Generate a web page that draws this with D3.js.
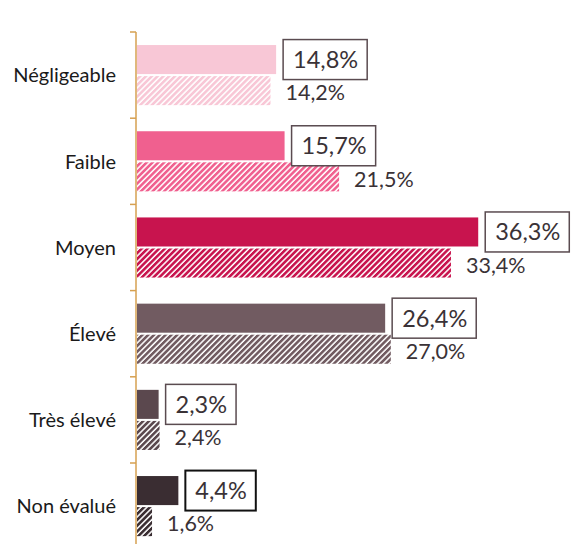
<!DOCTYPE html>
<html><head><meta charset="utf-8">
<script src="https://cdn.jsdelivr.net/npm/d3@7"></script>
<style>body{margin:0;background:#fff;}svg{display:block;font-family:Lato,"Open Sans",sans-serif;}</style>
</head><body>
<svg id="c" width="581" height="544"></svg>
<script>
const categories = ["Négligeable","Faible","Moyen","Élevé ","Très élevé","Non évalué"];
const solidValues = [14.8, 15.7, 36.3, 26.4, 2.3, 4.4];
const hatchValues = [14.2, 21.5, 33.4, 27.0, 2.4, 1.6];
const colors = ["#F8C7D6","#F0608F","#C8144E","#715B61","#5B484E","#3A2D32"];
const fmt = v => d3.format(".1f")(v).replace(".", ",") + "%";

const svg = d3.select("#c");
const x = d3.scaleLinear().domain([0, 40]).range([136, 512]);
const y = d3.scaleBand().domain(categories).range([32, 32 + 6*86.2]);
const sub = d3.scaleBand().domain(["s","h"]).range([0, y.bandwidth()]).paddingInner(0.065).paddingOuter(0.42);

const defs = svg.append("defs");
colors.forEach((c,i) => {
  const p = defs.append("pattern").attr("id","h"+i).attr("patternUnits","userSpaceOnUse")
    .attr("width",4.1).attr("height",10).attr("patternTransform","rotate(45)");
  p.append("rect").attr("width",4.1).attr("height",10).attr("fill","#fff");
  p.append("rect").attr("width",2.6).attr("height",10).attr("fill",c);
});

const g = svg.append("g");
categories.forEach((cat,i) => {
  const y0 = y(cat);
  g.append("rect").attr("x", x(0)+1).attr("y", y0+sub("s")).attr("width", x(solidValues[i])-x(0)).attr("height", sub.bandwidth()).attr("fill", colors[i]);
  g.append("rect").attr("x", x(0)+1).attr("y", y0+sub("h")).attr("width", x(hatchValues[i])-x(0)).attr("height", sub.bandwidth()).attr("fill", "url(#h"+i+")");
  const cy = y0+sub("s")+sub.bandwidth()/2;
  const last = i === categories.length-1;
  const box = g.append("rect");
  const t = g.append("text").attr("x", x(solidValues[i])+18).attr("y", cy).attr("dy","0.36em")
    .attr("font-size",23.5).attr("fill","#3a3236").text(fmt(solidValues[i]));
  const w = t.node().getComputedTextLength();
  box.attr("x", x(solidValues[i])+8).attr("y", cy-20).attr("width", w+19).attr("height", 40)
    .attr("fill","#fff").attr("stroke", last ? "#111" : "#5a4b50").attr("stroke-width", last ? 2 : 1.5);
  const hy = y0+sub("h")+sub.bandwidth()/2;
  g.append("text").attr("x", x(hatchValues[i])+16).attr("y", hy+2).attr("dy","0.36em")
    .attr("font-size",21.5).attr("fill","#3a3236").text(fmt(hatchValues[i]));
  g.append("text").attr("x", 116).attr("y", y0+y.bandwidth()/2).attr("dy","0.36em")
    .attr("text-anchor","end").attr("font-size",20).attr("fill","#1a1a1a").text(cat);
});

const ax = svg.append("g").attr("stroke","#D6A050").attr("stroke-width",1.5);
ax.append("line").attr("x1",136).attr("x2",136).attr("y1",y.range()[0]).attr("y2",544);
categories.forEach(cat => {
  ax.append("line").attr("x1",130).attr("x2",136).attr("y1",y(cat)).attr("y2",y(cat));
});
</script>
</body></html>
